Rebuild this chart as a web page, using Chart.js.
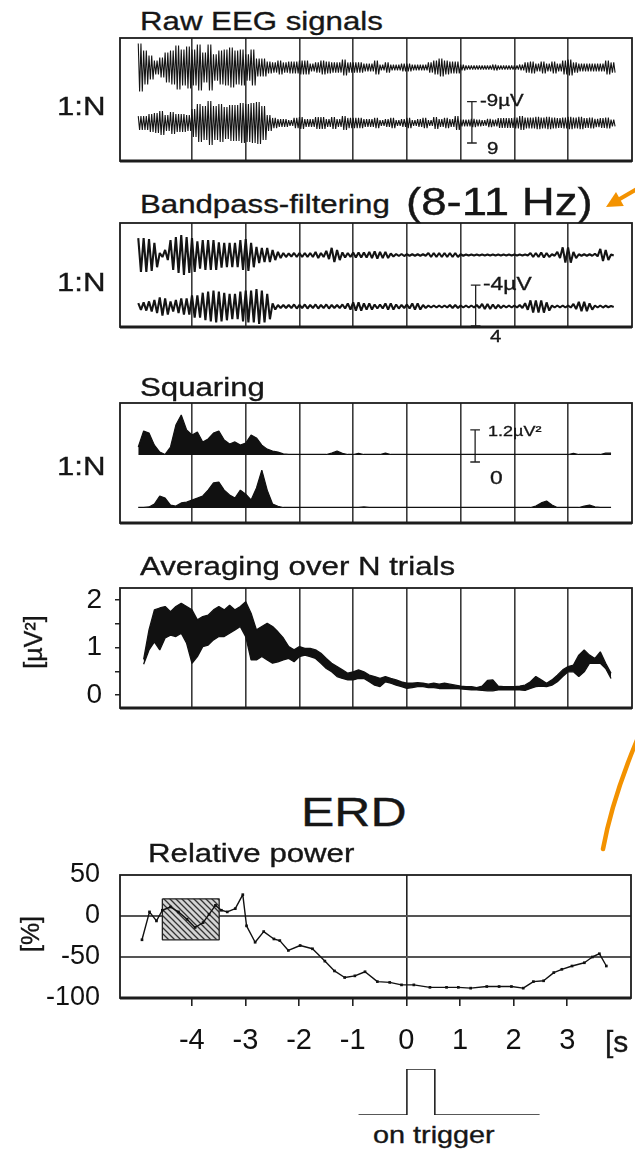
<!DOCTYPE html>
<html><head><meta charset="utf-8">
<script src="https://cdn.jsdelivr.net/npm/chart.js"></script>
<style>
html,body{margin:0;padding:0;background:#fff;}
#wrap{position:relative;width:635px;height:1150px;overflow:hidden;background:#fff;}
canvas{position:absolute;left:0;}
.t{position:absolute;white-space:nowrap;line-height:1;font-family:"Liberation Sans",Arial,Helvetica,sans-serif;color:#161616;transform-origin:0 0;-webkit-text-stroke:0.35px #161616;}
.v{position:absolute;white-space:nowrap;line-height:1;font-family:"Liberation Sans",Arial,Helvetica,sans-serif;color:#161616;transform:translate(-50%,-50%) rotate(-90deg);-webkit-text-stroke:0.35px #161616;}
</style></head>
<body><div id="wrap"></div>
<script>
// ---------- time base (s) ----------
const T0 = -5.0, DT = 0.1;
const xTickValues = [-4, -3, -2, -1, 0, 1, 2, 3];

// ---------- Raw EEG (µV amplitude per 0.1 s) ----------
const rawTrial1 = [10.4,7.4,5.2,3.0,4.3,6.5,7.4,9.6,7.8,9.1, 7.8,10.0,6.5,10.0,5.7,7.4,7.8,8.7,7.4,7.8,
  5.7,7.8,3.9,3.9,2.6,2.2,3.0,2.2,2.6,2.6, 3.0,3.0,1.7,2.2,3.0,2.6,2.2,2.2,3.5,2.2,
  2.2,2.2,1.7,1.7,3.0,1.3,2.2,1.3,1.3,1.7, 1.7,1.3,1.3,1.3,2.2,3.0,3.9,3.0,2.6,2.6,
  1.3,0.9,0.9,0.9,0.9,0.9,1.3,0.9,0.9,0.9, 0.9,1.3,2.2,2.6,1.7,2.6,1.7,2.6,1.7,3.0,
  3.5,2.2,1.7,1.7,1.7,1.7,1.7,3.0,2.2];
const rawTrial2 = [3.0,3.0,3.9,4.3,5.2,3.5,4.8,3.9,3.9,3.5, 6.1,8.3,7.4,9.6,7.4,8.3,7.0,7.8,7.8,8.7,
  8.3,8.7,9.1,7.4,3.5,2.2,1.7,1.7,1.3,2.2, 2.6,1.7,1.7,2.6,2.6,1.7,2.6,1.7,3.0,2.2,
  2.2,2.2,1.7,1.7,2.2,1.3,1.7,2.2,1.3,1.7, 2.2,1.3,1.7,2.2,1.3,2.6,1.7,2.2,1.7,3.0,
  1.5,1.5,1.8,1.5,1.2,1.8,1.5,2.1,2.1,2.1, 2.4,3.0,2.4,2.4,2.7,2.4,2.7,2.4,2.1,2.4,
  2.7,2.4,2.7,2.1,2.4,1.8,2.1,2.4,1.5];

// ---------- Bandpass 8-11 Hz (µV amplitude per 0.1 s) ----------
const bandTrial1 = [3.3,3.3,3.1,2.4,0.4,1.0,2.9,3.5,3.9,3.5, 3.3,2.7,2.9,2.9,2.9,2.5,2.4,2.4,2.4,2.9,
  3.1,2.4,1.6,1.4,1.4,1.0,0.6,0.4,0.3,0.4, 0.4,0.4,0.4,0.6,0.4,0.8,1.4,1.0,0.5,0.4,
  0.5,0.5,0.5,0.6,0.7,0.6,0.6,0.3,0.2,0.2, 0.15,0.15,0.15,0.15,0.4,0.4,0.4,0.4,0.4,0.4,
  0.15,0.1,0.1,0.1,0.1,0.1,0.1,0.1,0.1,0.1, 0.1,0.1,0.1,0.4,0.4,0.5,0.4,0.15,0.6,1.5,
  1.5,0.6,0.15,0.15,0.15,0.25,1.2,1.0,0.1];
const bandTrial2 = [0.65,0.8,1.0,1.3,1.8,1.6,1.0,1.3,1.6,1.6, 2.2,2.2,2.7,2.9,3.1,2.9,2.7,2.5,2.5,2.9,
  3.1,3.1,3.4,3.1,2.5,0.6,0.3,0.3,0.3,0.4, 0.3,0.4,0.3,0.4,0.3,0.4,0.3,0.3,0.4,0.6,
  0.8,0.8,0.6,0.6,0.4,0.4,0.6,0.6,0.4,0.3, 0.4,0.6,0.6,0.3,0.2,0.2,0.2,0.2,0.3,0.3,
  0.2,0.2,0.2,0.3,0.5,0.5,0.4,0.3,0.2,0.2, 0.2,0.3,0.65,1.2,1.2,1.2,0.8,0.2,0.2,0.2,
  0.2,0.5,0.9,0.9,0.6,0.2,0.2,0.15,0.1];

// ---------- Squared signal (µV² per 0.1 s) ----------
const sqTrial1 = [0.3,0.9,0.82,0.37,0.11,0.02,0.3,1.12,1.5,0.94, 0.75,0.86,0.49,0.6,0.82,0.9,0.56,0.41,0.49,0.37,
  0.45,0.75,0.64,0.37,0.22,0.15,0.11,0.04,0.02,0.02, 0.02,0.02,0.02,0.02,0.02,0.02,0.07,0.15,0.06,0.02,
  0.02,0.06,0.02,0.02,0.02,0.02,0.07,0.02,0.02,0.02, 0.02,0.02,0.02,0.02,0.02,0.02,0.02,0.02,0.02,0.02,
  0.02,0.02,0.02,0.02,0.02,0.02,0.02,0.02,0.02,0.02, 0.02,0.02,0.02,0.02,0.02,0.02,0.02,0.02,0.02,0.02,
  0.02,0.06,0.02,0.02,0.02,0.02,0.02,0.07,0.07];
const sqTrial2 = [0.02,0.02,0.04,0.15,0.45,0.37,0.11,0.07,0.19,0.22, 0.3,0.37,0.45,0.67,0.94,0.97,0.67,0.49,0.37,0.67,
  0.52,0.3,0.75,1.42,0.67,0.15,0.06,0.02,0.02,0.02, 0.02,0.02,0.02,0.02,0.02,0.02,0.02,0.02,0.02,0.02,
  0.02,0.02,0.04,0.02,0.02,0.02,0.02,0.02,0.02,0.02, 0.02,0.02,0.02,0.02,0.02,0.02,0.02,0.02,0.02,0.02,
  0.02,0.02,0.02,0.02,0.02,0.02,0.02,0.02,0.02,0.02, 0.02,0.02,0.02,0.02,0.07,0.19,0.26,0.11,0.02,0.02,
  0.02,0.02,0.02,0.07,0.11,0.04,0.02,0.02,0.02];

// ---------- Average over N trials (µV², band upper / lower per 0.1 s) ----------
const avgUpper = [null,0.75,1.37,1.79,1.83,1.86,1.75,1.86,1.93,1.86, 1.79,1.58,1.65,1.68,1.79,1.86,1.79,1.89,1.79,1.86,
  1.96,1.72,1.37,1.44,1.51,1.44,1.33,1.2,1.02,0.95, 1.02,0.98,0.98,0.95,0.88,0.77,0.67,0.6,0.53,0.46,
  0.49,0.53,0.49,0.42,0.39,0.35,0.39,0.35,0.32,0.28, 0.25,0.25,0.26,0.25,0.23,0.25,0.23,0.25,0.23,0.21,
  0.19,0.18,0.18,0.16,0.19,0.31,0.32,0.19,0.18,0.18, 0.18,0.19,0.21,0.28,0.39,0.32,0.25,0.32,0.42,0.53,
  0.6,0.63,0.84,0.95,0.84,0.77,0.91,0.67,0.46];
const avgLower = [null,0.65,0.95,1.12,0.95,1.2,1.26,1.23,1.3,1.09, 0.67,0.81,1.02,1.05,1.16,1.23,1.23,1.3,1.37,1.44,
  1.23,0.74,0.74,0.81,0.74,0.67,0.7,0.74,0.77,0.7, 0.81,0.84,0.81,0.77,0.67,0.56,0.49,0.39,0.35,0.32,
  0.32,0.35,0.35,0.28,0.21,0.18,0.28,0.25,0.21,0.18, 0.14,0.16,0.18,0.18,0.16,0.16,0.14,0.14,0.14,0.14,
  0.13,0.12,0.11,0.11,0.1,0.09,0.09,0.11,0.11,0.11, 0.11,0.11,0.1,0.14,0.18,0.19,0.18,0.21,0.28,0.39,
  0.49,0.49,0.39,0.49,0.67,0.67,0.67,0.56,0.35];
const avgTickValues = [0, 0.5, 1, 1.5, 2];

// ---------- ERD relative power (%) ----------
const erdTime = [-4.93,-4.79,-4.66,-4.55,-4.4,-4.25,-4.09,-3.94,-3.79,-3.68, -3.56,-3.45,-3.34,-3.19,-3.05,-2.98,-2.82,-2.66,-2.47,-2.36,
  -2.2,-1.98,-1.75,-1.52,-1.34,-1.15,-0.96,-0.77,-0.54,-0.31, -0.09,0.14,0.44,0.75,0.97,1.2,1.5,1.73,1.96,2.18,
  2.37,2.56,2.75,2.9,3.09,3.32,3.47,3.6,3.73];
const erdValue = [-29,5,-6,7,11,5,-4,-14,-8,2, 13,7,5,9,26,-12,-32,-19,-28,-30,
  -42,-36,-40,-55,-67,-75,-73,-68,-80,-81, -84,-84,-87,-87,-87,-88,-86,-86,-86,-88,
  -80,-79,-69,-65,-61,-57,-50,-46,-61];
const erdYTicks = [-100, -50, 0, 50];
const refInterval = [-4.55, -3.49];   // reference period (s)
const refRange = [-29, 21];           // hatched box (%)

// ---------- trigger ----------
const trigTime = [-0.9, 0, 0, 0.52, 0.52, 2.47];
const trigLevel = [0, 0, 1, 1, 0, 0];

// ---------- scale-bar values ----------
const rawBar = 18;    // µV  (-9 .. 9)
const bandBar = 8;    // µV  (-4 .. 4)
const sqBar = 1.2;    // µV²

// =====================================================
const FONT = '"Liberation Sans", Arial, Helvetica, sans-serif';
const X_MIN = -5.34, X_MAX = 4.19;
const wrap = document.getElementById('wrap');

function addCanvas(top, height) {
  const c = document.createElement('canvas');
  c.width = 635; c.height = height;
  c.style.top = top + 'px'; c.style.width = '635px'; c.style.height = height + 'px';
  wrap.appendChild(c);
  return c;
}
function timeAt(i) { return +(T0 + i * DT).toFixed(3); }
// one oscillation cycle per sample (alpha band)
function zigzag(amps, center) {
  const pts = [];
  amps.forEach((a, i) => {
    const t = timeAt(i);
    pts.push({x: t, y: center + a});
    pts.push({x: t + DT / 2, y: center - a});
  });
  return pts;
}
// two cycles per sample (broadband raw signal)
function zigzag2(amps, center) {
  const pts = [];
  amps.forEach((a, i) => {
    const t = timeAt(i);
    pts.push({x: t, y: center + a});
    pts.push({x: t + DT / 4, y: center - a});
    pts.push({x: t + DT / 2, y: center + a});
    pts.push({x: t + 3 * DT / 4, y: center - a});
  });
  return pts;
}
function offsetSeries(vals, base) {
  return vals.map((v, i) => ({x: timeAt(i), y: v == null ? null : base + v}));
}
function scaleBar(t, lo, hi, w) {
  return [{x: t - w, y: lo}, {x: t + w, y: lo}, {x: t, y: lo}, {x: t, y: hi}, {x: t - w, y: hi}, {x: t + w, y: hi}];
}
function text(str, x, baseline, size, sx) {
  const d = document.createElement('div'); d.className = 't'; d.textContent = str;
  d.style.left = x + 'px'; d.style.top = (baseline - 0.8465 * size) + 'px'; d.style.fontSize = size + 'px';
  if (sx) d.style.transform = 'scaleX(' + sx + ')';
  wrap.appendChild(d);
  return d;
}
function vtext(str, cx, cy, size) {
  const d = document.createElement('div'); d.className = 'v'; d.textContent = str;
  d.style.left = cx + 'px'; d.style.top = cy + 'px'; d.style.fontSize = size + 'px';
  wrap.appendChild(d);
}

const framePlugin = {
  id: 'frame',
  afterDatasetsDraw(chart, args, opts) {
    if (!opts || !opts.show) return;
    const {ctx, chartArea: a} = chart;
    ctx.save();
    ctx.strokeStyle = '#1c1c1c';
    ctx.lineWidth = 1.8;
    ctx.strokeRect(a.left, a.top, a.right - a.left, a.bottom - a.top);
    ctx.lineWidth = opts.bottom || 3;
    ctx.beginPath(); ctx.moveTo(a.left, a.bottom); ctx.lineTo(a.right, a.bottom); ctx.stroke();
    ctx.restore();
  }
};

function xScale(extra) {
  return Object.assign({
    type: 'linear', min: X_MIN, max: X_MAX,
    afterBuildTicks: s => { s.ticks = xTickValues.map(v => ({value: v})); },
    ticks: {display: false},
    grid: {color: '#3a3a3a', lineWidth: 1.6, drawTicks: false},
    border: {display: false},
    afterFit: s => { s.height = 0; s.paddingLeft = 0; s.paddingRight = 0; }
  }, extra || {});
}
function baseOptions(scales, padding, frame) {
  return {
    responsive: false, animation: false, devicePixelRatio: 1, events: [],
    layout: {padding: padding},
    plugins: {legend: {display: false}, tooltip: {enabled: false}, title: {display: false},
      frame: frame === false ? {show: false} : {show: true, bottom: 3}},
    elements: {line: {tension: 0, borderJoinStyle: 'bevel'}, point: {radius: 0}},
    scales: scales
  };
}
const traceStyle = {borderColor: '#141414', borderWidth: 1.1, pointRadius: 0, fill: false};
const barStyle = {borderColor: '#222', borderWidth: 1.3, pointRadius: 0, fill: false};

// ---------- Panel 1: raw EEG ----------
{
  const top = 38, bottom = 161, pxPerUnit = 2.3;
  const yMax = (bottom - top) / pxPerUnit;
  const c1 = (bottom - 67.5) / pxPerUnit, c2 = (bottom - 123) / pxPerUnit;
  const lo = (bottom - 143) / pxPerUnit;
  new Chart(addCanvas(top - 2, bottom - top + 4), {
    type: 'line',
    data: {datasets: [
      Object.assign({data: zigzag2(rawTrial1, c1)}, traceStyle),
      Object.assign({data: zigzag2(rawTrial2, c2)}, traceStyle),
      Object.assign({data: scaleBar(1.21, lo, lo + rawBar, 0.09)}, barStyle)
    ]},
    options: baseOptions({x: xScale(), y: {display: false, min: 0, max: yMax}}, {left: 120, right: 3, top: 2, bottom: 2}),
    plugins: [framePlugin]
  });
}
// ---------- Panel 2: bandpass ----------
{
  const top = 223, bottom = 327, pxPerUnit = 5.1;
  const yMax = (bottom - top) / pxPerUnit;
  const c1 = (bottom - 255) / pxPerUnit, c2 = (bottom - 306.5) / pxPerUnit;
  const lo = (bottom - 326) / pxPerUnit;
  new Chart(addCanvas(top - 2, bottom - top + 4), {
    type: 'line',
    data: {datasets: [
      Object.assign({data: zigzag(bandTrial1, c1)}, traceStyle, {borderWidth: 2.1}),
      Object.assign({data: zigzag(bandTrial2, c2)}, traceStyle, {borderWidth: 2.1}),
      Object.assign({data: scaleBar(1.28, lo, lo + bandBar, 0.09)}, barStyle)
    ]},
    options: baseOptions({x: xScale(), y: {display: false, min: 0, max: yMax}}, {left: 120, right: 3, top: 2, bottom: 2}),
    plugins: [framePlugin]
  });
}
// ---------- Panel 3: squaring ----------
{
  const top = 403, bottom = 523, pxPerUnit = 26.7;
  const yMax = (bottom - top) / pxPerUnit;
  const b1 = (bottom - 455) / pxPerUnit, b2 = (bottom - 508) / pxPerUnit;
  const lo = (bottom - 462) / pxPerUnit;
  const fillStyle = {borderColor: '#111', borderWidth: 1.2, pointRadius: 0, backgroundColor: '#111'};
  new Chart(addCanvas(top - 2, bottom - top + 4), {
    type: 'line',
    data: {datasets: [
      Object.assign({data: offsetSeries(sqTrial1, b1), fill: {value: b1}}, fillStyle),
      Object.assign({data: offsetSeries(sqTrial2, b2), fill: {value: b2}}, fillStyle),
      Object.assign({data: scaleBar(1.27, lo, lo + sqBar, 0.09)}, barStyle)
    ]},
    options: baseOptions({x: xScale(), y: {display: false, min: 0, max: yMax}}, {left: 120, right: 3, top: 2, bottom: 2}),
    plugins: [framePlugin]
  });
}
// ---------- Panel 4: averaging ----------
{
  const top = 588, bottom = 708, padTop = 14;
  new Chart(addCanvas(top - padTop, bottom - top + padTop + 2), {
    type: 'line',
    data: {datasets: [
      {data: offsetSeries(avgUpper, 0), borderColor: '#111', borderWidth: 1.3, pointRadius: 0, backgroundColor: '#111', fill: '+1', spanGaps: false},
      {data: offsetSeries(avgLower, 0), borderColor: '#111', borderWidth: 1.3, pointRadius: 0, fill: false, spanGaps: false}
    ]},
    options: baseOptions({
      x: xScale(),
      y: {type: 'linear', min: -0.27, max: 2.25, position: 'left',
        afterBuildTicks: s => { s.ticks = avgTickValues.map(v => ({value: v})); },
        ticks: {callback: v => Number.isInteger(v) ? String(v) : '', font: {size: 28, family: FONT}, color: '#111', padding: 13, autoSkip: false},
        grid: {drawOnChartArea: false, drawTicks: true, tickLength: 5, color: '#222', lineWidth: 1.5},
        border: {display: false},
        afterFit: s => { s.width = 120; s.paddingTop = 0; s.paddingBottom = 0; }}
    }, {left: 0, right: 3, top: padTop, bottom: 2}),
    plugins: [framePlugin]
  });
}
// ---------- Panel 5: ERD ----------
function hatchPattern() {
  const p = document.createElement('canvas'); p.width = 6; p.height = 6;
  const g = p.getContext('2d');
  g.fillStyle = '#d4d4d4'; g.fillRect(0, 0, 6, 6);
  g.strokeStyle = '#333'; g.lineWidth = 1.3;
  g.beginPath(); g.moveTo(-1, -1); g.lineTo(7, 7); g.moveTo(5, -1); g.lineTo(7, 1); g.moveTo(-1, 5); g.lineTo(1, 7); g.stroke();
  return g.createPattern(p, 'repeat');
}
{
  const top = 875, bottom = 998, axisH = 62, padTop = 20;
  const [r0, r1] = refInterval, [rb, rt] = refRange;
  new Chart(addCanvas(top - padTop, bottom - top + padTop + axisH), {
    type: 'line',
    data: {datasets: [
      {data: erdTime.map((t, i) => ({x: t, y: erdValue[i]})), borderColor: '#111', borderWidth: 1.4,
        pointRadius: 1.9, pointStyle: 'rect', pointBackgroundColor: '#111', pointBorderWidth: 0, fill: false},
      {data: [{x: r0, y: rt}, {x: r1, y: rt}, {x: r1, y: rb}, {x: r0, y: rb}, {x: r0, y: rt}],
        borderColor: '#222', borderWidth: 1.3, pointRadius: 0, fill: false},
      {data: [{x: r0, y: rt}, {x: r1, y: rt}], borderWidth: 0, pointRadius: 0,
        fill: {value: rb}, backgroundColor: hatchPattern()}
    ]},
    options: baseOptions({
      x: xScale({
        ticks: {display: true, font: {size: 29, family: FONT}, color: '#111', padding: 18, maxRotation: 0, autoSkip: false},
        grid: {color: c => (c.tick && c.tick.value === 0) ? '#222' : 'rgba(0,0,0,0)', tickColor: '#222',
          tickLength: 8, drawTicks: true, lineWidth: 1.6},
        afterFit: s => { s.height = axisH; s.paddingLeft = 0; s.paddingRight = 0; }
      }),
      y: {type: 'linear', min: -100, max: 50, position: 'left',
        afterBuildTicks: s => { s.ticks = erdYTicks.map(v => ({value: v})); },
        ticks: {font: {size: 27, family: FONT}, color: '#111', padding: 20, autoSkip: false},
        grid: {color: c => (c.tick && (c.tick.value === 0 || c.tick.value === -50)) ? '#555' : 'rgba(0,0,0,0)',
          lineWidth: 2, drawTicks: false},
        border: {display: false},
        afterFit: s => { s.width = 120; s.paddingTop = 0; s.paddingBottom = 0; }}
    }, {left: 0, right: 3, top: padTop, bottom: 0}),
    plugins: [framePlugin]
  });
}
// ---------- trigger pulse ----------
{
  new Chart(addCanvas(1064, 56), {
    type: 'line',
    data: {datasets: [{data: trigTime.map((t, i) => ({x: t, y: trigLevel[i]})), borderColor: '#222', borderWidth: 1.6,
      pointRadius: 0, fill: false, borderJoinStyle: 'miter'}]},
    options: baseOptions({
      x: {type: 'linear', min: X_MIN, max: X_MAX, display: false},
      y: {type: 'linear', min: 0, max: 1, display: false}
    }, {left: 120, right: 3, top: 5, bottom: 5}, false)
  });
}

// ---------- text ----------
const SX = 1.2;
text('Raw EEG signals', 140, 30, 26, SX);
text('Bandpass-filtering', 140, 213, 26, SX);
text('(8-11 Hz)', 406, 215, 39, 1.17);
text('Squaring', 140, 396, 26, SX);
text('Averaging over N trials', 140, 575, 26, SX);
text('ERD', 301, 827, 41, 1.22);
text('Relative power', 148, 862, 26, SX);
text('1:N', 57, 115, 26, SX);
text('1:N', 57, 291, 26, SX);
text('1:N', 57, 475, 26, SX);
text('-9\u00b5V', 480, 106, 17, SX);
text('9', 487, 154, 17, SX);
text('-4\u00b5V', 483, 290, 19, SX);
text('4', 490, 342, 17, SX);
text('1.2\u00b5V\u00b2', 488, 436, 15, SX);
text('0', 490, 484, 19, SX);
text('[s', 605, 1052, 30, 1.0);
text('on trigger', 373, 1143, 24, SX);
vtext('[\u00b5V\u00b2]', 33, 642, 25);
vtext('[%]', 30, 934, 25);

// ---------- orange annotations ----------
const svgNS = 'http://www.w3.org/2000/svg';
const svg = document.createElementNS(svgNS, 'svg');
svg.setAttribute('width', '635'); svg.setAttribute('height', '1150');
svg.style.position = 'absolute'; svg.style.left = '0'; svg.style.top = '0';
svg.innerHTML =
  '<path d="M637,189 L618,200" stroke="#f39200" stroke-width="4" fill="none"/>' +
  '<polygon points="606,207 623.8,206.1 616,192.1" fill="#f39200"/>' +
  '<path d="M603,849 Q612,800 637,740" stroke="#f39200" stroke-width="4.5" fill="none" stroke-linecap="round"/>';
wrap.appendChild(svg);
</script>
</body></html>
